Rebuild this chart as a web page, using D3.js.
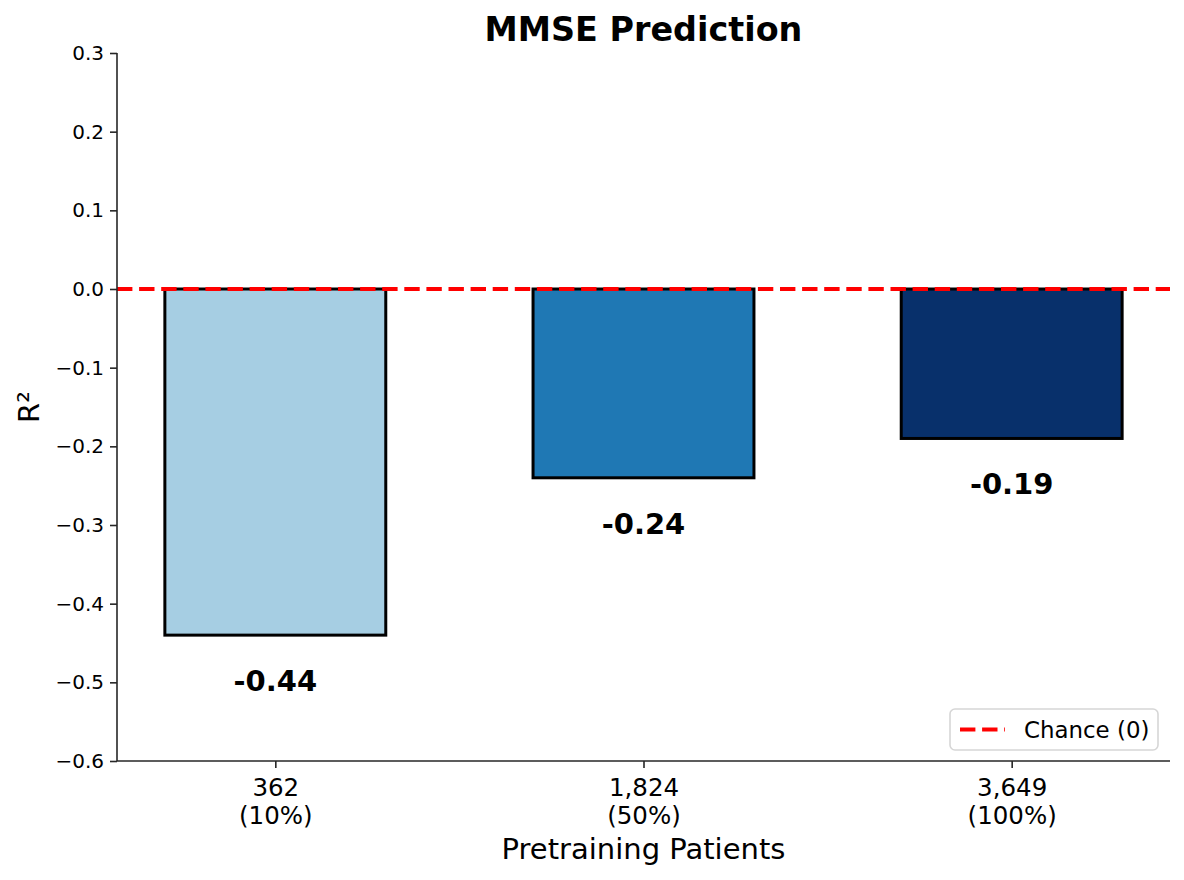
<!DOCTYPE html>
<html lang="en">
<head>
    <meta charset="UTF-8">
    <title>MMSE Prediction</title>
    <style>
        body { margin: 0; background: #fff; }
        svg text { font-family: "DejaVu Sans", sans-serif; fill: #000; }
        .axis path, .axis line { stroke: #262626; stroke-width: 1.6px; }
    </style>
</head>
<body>
    <div id="chart"></div>
    <script src="https://d3js.org/d3.v7.min.js"></script>
    <script>
        const counts = ["362", "1,824", "3,649"];
        const shares = ["(10%)", "(50%)", "(100%)"];
        const r2 = [-0.44, -0.24, -0.19];
        const colors = ["#a6cee3", "#1f78b4", "#08306b"];
        const yTicks = [0.3, 0.2, 0.1, 0.0, -0.1, -0.2, -0.3, -0.4, -0.5, -0.6];

        const W = 1184, H = 880;
        const margin = { top: 53, right: 14, bottom: 119, left: 117 };
        const width = W - margin.left - margin.right;
        const height = H - margin.top - margin.bottom;

        const svg = d3.select("#chart").append("svg")
            .attr("width", W)
            .attr("height", H);
        const g = svg.append("g")
            .attr("transform", "translate(" + margin.left + "," + margin.top + ")");

        // bars at 0,1,2 with width 0.6, like matplotlib with default margins
        const x = d3.scaleLinear().domain([-0.43, 2.43]).range([0, width]);
        const y = d3.scaleLinear().domain([-0.6, 0.3]).range([height, 0]);
        const barW = 0.6;

        g.selectAll(".bar")
            .data(r2)
            .enter().append("rect")
            .attr("class", "bar")
            .attr("x", (d, i) => x(i - barW / 2))
            .attr("width", x(barW) - x(0))
            .attr("y", y(0))
            .attr("height", d => y(d) - y(0))
            .attr("fill", (d, i) => colors[i])
            .attr("stroke", "#000")
            .attr("stroke-width", 3);

        g.selectAll(".val")
            .data(r2)
            .enter().append("text")
            .attr("class", "val")
            .attr("x", (d, i) => x(i))
            .attr("y", d => y(d - 0.0435))
            .attr("dominant-baseline", "hanging")
            .attr("text-anchor", "middle")
            .style("font-size", "29px")
            .style("font-weight", "bold")
            .text(d => d.toFixed(2));

        // chance line
        g.append("line")
            .attr("x1", 0).attr("x2", width)
            .attr("y1", y(0)).attr("y2", y(0))
            .attr("stroke", "red")
            .attr("stroke-width", 4)
            .attr("stroke-dasharray", "15.4,6.7");

        const yAxis = g.append("g")
            .attr("class", "axis")
            .call(d3.axisLeft(y).tickValues(yTicks).tickSize(7).tickPadding(6)
                .tickFormat(d => d3.format(".1f")(d).replace("-", "\u2212")));
        yAxis.selectAll("text").style("font-size", "20px");

        const xAxis = g.append("g")
            .attr("class", "axis")
            .attr("transform", "translate(0," + height + ")")
            .call(d3.axisBottom(x).tickValues([0, 1, 2]).tickSize(7).tickFormat(""));
        xAxis.select(".domain").attr("d", "M0,0H" + width);
        xAxis.selectAll(".tick").append("text")
            .attr("text-anchor", "middle")
            .style("font-size", "24.5px")
            .each(function (d) {
                const t = d3.select(this);
                t.append("tspan").attr("x", 0).attr("y", 35).text(counts[d]);
                t.append("tspan").attr("x", 0).attr("y", 63).text(shares[d]);
            });
        yAxis.select(".domain").attr("d", "M0," + height + "V0");

        // title and labels
        svg.append("text")
            .attr("x", margin.left + width / 2)
            .attr("y", 41)
            .attr("text-anchor", "middle")
            .style("font-size", "33.4px")
            .style("font-weight", "bold")
            .text("MMSE Prediction");

        svg.append("text")
            .attr("x", margin.left + width / 2)
            .attr("y", 859)
            .attr("text-anchor", "middle")
            .style("font-size", "29px")
            .text("Pretraining Patients");

        svg.append("text")
            .attr("transform", "translate(39," + (margin.top + height / 2) + ") rotate(-90)")
            .attr("text-anchor", "middle")
            .style("font-size", "29px")
            .text("R²");

        // legend
        const leg = svg.append("g").attr("transform", "translate(950,709)");
        leg.append("rect")
            .attr("width", 208).attr("height", 41)
            .attr("rx", 5)
            .attr("fill", "#fff")
            .attr("fill-opacity", 0.8)
            .attr("stroke", "#d6d6d6")
            .attr("stroke-width", 1.6);
        leg.append("line")
            .attr("x1", 10).attr("x2", 55)
            .attr("y1", 20.5).attr("y2", 20.5)
            .attr("stroke", "red")
            .attr("stroke-width", 4)
            .attr("stroke-dasharray", "15.4,6.7");
        leg.append("text")
            .attr("x", 74).attr("y", 28.5)
            .style("font-size", "22.9px")
            .text("Chance (0)");
    </script>
</body>
</html>
